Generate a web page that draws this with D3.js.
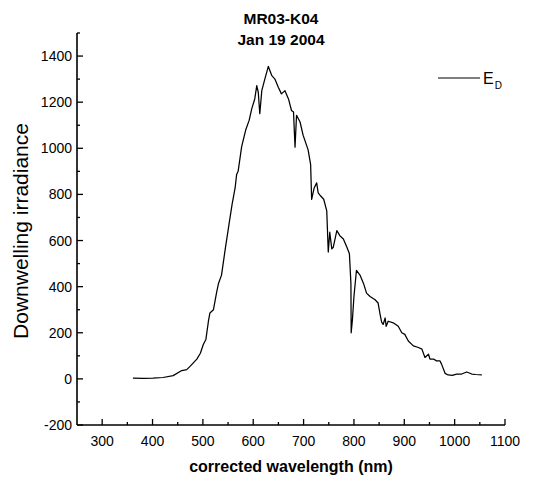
<!DOCTYPE html>
<html>
<head>
<meta charset="utf-8">
<script src="https://cdn.jsdelivr.net/npm/d3@7"></script>
<style>
  html, body { margin: 0; padding: 0; background: #fff; }
  svg text { font-family: Arial, "Liberation Sans", sans-serif; fill: #000; }
</style>
</head>
<body>
<svg id="chart" width="548" height="486"></svg>
<script>
// ── Data ─────────────────────────────────────────────────────────────────────
const title      = ['MR03-K04', 'Jan 19 2004'];
const xLabel     = 'corrected wavelength (nm)';
const yLabel     = 'Downwelling irradiance';
const seriesName = 'E';
const seriesSub  = 'D';

const xTicks = [300, 400, 500, 600, 700, 800, 900, 1000, 1100];
const yTicks = [-200, 0, 200, 400, 600, 800, 1000, 1200, 1400];

const wavelength = [
  361, 381, 401, 421, 441, 458, 468, 474, 488, 495, 501, 506, 511, 514, 521,
  527, 531, 537, 544, 552, 558, 564, 567, 570, 577, 585, 592, 597, 603, 607,
  610, 613, 617, 623, 630, 637, 643, 650, 656, 663, 670, 676, 680, 683, 686,
  693, 699, 709, 714, 716, 721, 726, 729, 734, 740, 746, 749, 752, 756, 759,
  766, 772, 779, 786, 791, 794, 794.5, 797, 800, 805, 812, 819, 825, 832, 842,
  848, 852, 855, 858, 862, 864, 868, 878, 888, 895, 901, 908, 918, 928, 935,
  941, 948, 951, 958, 964, 971, 974, 981, 987, 995, 1004, 1014, 1024, 1034, 1042,
  1054
];
const irradiance = [
  3, 2, 3, 6, 14, 36, 40, 53, 86, 111, 150, 171, 250, 286, 300,
  372, 414, 450, 557, 672, 757, 828, 886, 900, 1007, 1079, 1122, 1171, 1214, 1272,
  1243, 1150, 1250, 1300, 1355, 1315, 1300, 1264, 1236, 1250, 1214, 1164, 1157, 1005, 1143,
  1114, 1057, 993, 929, 778, 828, 850, 807, 793, 779, 729, 550, 636, 564, 571,
  643, 621, 607, 571, 543, 414, 200, 257, 357, 471, 450, 414, 372, 357, 343,
  329, 279, 246, 236, 264, 228, 250, 243, 228, 200, 193, 164, 143, 136, 129,
  93, 107, 86, 86, 78, 78, 64, 24, 17, 15, 21, 21, 30, 21, 19,
  17
];

// ── Layout ───────────────────────────────────────────────────────────────────
const X0 = 77, X1 = 505, Y0 = 425, Y1 = 33;
const FONT = 14;

const svg = d3.select('#chart');

const x = d3.scaleLinear().domain([250, 1100]).range([X0, X1]);
const y = d3.scaleLinear().domain([-200, 1500]).range([Y0, Y1]);

// ── Axes (ticks inward, minor ticks between majors) ─────────────────────────
const xMinor = d3.range(350, 1100, 100);
const yMinor = d3.range(-100, 1600, 200);

const xAxis = svg.append('g').attr('transform', `translate(0,${Y0})`);
xAxis.append('line')
  .attr('x1', X0).attr('x2', X1).attr('y1', 0).attr('y2', 0)
  .attr('stroke', '#000').attr('stroke-width', 1.6);
xAxis.selectAll('.maj').data(xTicks).join('line')
  .attr('x1', d => x(d)).attr('x2', d => x(d)).attr('y1', 0).attr('y2', -6)
  .attr('stroke', '#000').attr('stroke-width', 1.3);
xAxis.selectAll('.min').data(xMinor).join('line')
  .attr('x1', d => x(d)).attr('x2', d => x(d)).attr('y1', 0).attr('y2', -3)
  .attr('stroke', '#000').attr('stroke-width', 1.3);
xAxis.selectAll('text').data(xTicks).join('text')
  .attr('x', d => x(d)).attr('y', 21)
  .attr('text-anchor', 'middle').attr('font-size', FONT)
  .text(d => d);

const yAxis = svg.append('g').attr('transform', `translate(${X0},0)`);
yAxis.append('line')
  .attr('x1', 0).attr('x2', 0).attr('y1', Y1).attr('y2', Y0)
  .attr('stroke', '#000').attr('stroke-width', 1.6);
yAxis.selectAll('.maj').data(yTicks).join('line')
  .attr('x1', 0).attr('x2', 6).attr('y1', d => y(d)).attr('y2', d => y(d))
  .attr('stroke', '#000').attr('stroke-width', 1.3);
yAxis.selectAll('.min').data(yMinor).join('line')
  .attr('x1', 0).attr('x2', 3).attr('y1', d => y(d)).attr('y2', d => y(d))
  .attr('stroke', '#000').attr('stroke-width', 1.3);
yAxis.selectAll('text').data(yTicks).join('text')
  .attr('x', -5).attr('y', d => y(d) + 5)
  .attr('text-anchor', 'end').attr('font-size', FONT)
  .text(d => d);

// ── Spectrum ─────────────────────────────────────────────────────────────────
const pts = wavelength.map((w, i) => [w, irradiance[i]]);
svg.append('path')
  .datum(pts)
  .attr('fill', 'none').attr('stroke', '#000').attr('stroke-width', 1.25)
  .attr('stroke-linejoin', 'round')
  .attr('d', d3.line().x(d => x(d[0])).y(d => y(d[1])));

// ── Titles and labels ────────────────────────────────────────────────────────
svg.append('text').attr('x', 281).attr('y', 24)
  .attr('text-anchor', 'middle').attr('font-size', 15.5).attr('font-weight', 'bold')
  .text(title[0]);
svg.append('text').attr('x', 281).attr('y', 45)
  .attr('text-anchor', 'middle').attr('font-size', 15.5).attr('font-weight', 'bold')
  .text(title[1]);

svg.append('text').attr('x', 291).attr('y', 472)
  .attr('text-anchor', 'middle').attr('font-size', 16).attr('font-weight', 'bold')
  .text(xLabel);

svg.append('text')
  .attr('transform', 'translate(28,231) rotate(-90)')
  .attr('text-anchor', 'middle').attr('font-size', 21)
  .text(yLabel);

// ── Legend ───────────────────────────────────────────────────────────────────
const leg = svg.append('g').attr('transform', 'translate(438,78)');
leg.append('line').attr('x1', 0).attr('x2', 42).attr('y1', 0).attr('y2', 0)
  .attr('stroke', '#000').attr('stroke-width', 1);
const lt = leg.append('text').attr('x', 45).attr('y', 6).attr('font-size', 16);
lt.append('tspan').text(seriesName);
lt.append('tspan').attr('dx', 1).attr('dy', 5).attr('font-size', 10).text(seriesSub);
</script>
</body>
</html>
